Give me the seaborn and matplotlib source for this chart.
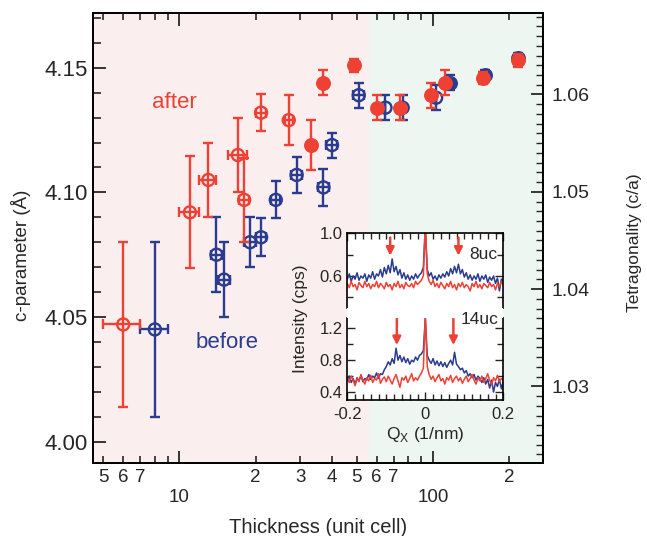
import numpy as np
import pandas as pd
import matplotlib
matplotlib.use("Agg")
import matplotlib.pyplot as plt
import seaborn as sns
from matplotlib.ticker import (FixedLocator, FixedFormatter, LogLocator,
                               FuncFormatter, MultipleLocator, FormatStrFormatter)

# ---- c-parameter vs film thickness -------------------------------------
after_thickness = [6, 11, 13, 17, 18, 21, 27, 33, 37, 49, 60, 74, 98, 112, 158, 216]
after_thickness_err = [1, 1, 1, 1.5, 0.8, 1, 1, 0, 0, 0, 0, 0, 0, 0, 0, 0]
after_c = [4.047, 4.092, 4.105, 4.115, 4.097, 4.132, 4.129, 4.119, 4.144,
           4.151, 4.134, 4.134, 4.139, 4.144, 4.146, 4.153]
after_c_err = [0.033, 0.0225, 0.015, 0.015, 0.017, 0.0075, 0.010, 0.010, 0.005,
               0.0025, 0.005, 0.005, 0.005, 0.005, 0.0025, 0.0025]

before_thickness = [8, 14, 15, 19, 21, 24, 29, 37, 40, 51, 65, 76, 103, 117, 160, 216]
before_thickness_err = [1, 0.7, 0.8, 1, 1, 1, 1.5, 1.8, 2, 2.5, 0, 0, 0, 0, 0, 0]
before_c = [4.045, 4.075, 4.065, 4.080, 4.082, 4.097, 4.107, 4.102, 4.119,
            4.139, 4.134, 4.134, 4.138, 4.144, 4.147, 4.154]
before_c_err = [0.035, 0.015, 0.015, 0.010, 0.0077, 0.0074, 0.0073, 0.0074, 0.005,
                0.005, 0.005, 0.005, 0.005, 0.003, 0.002, 0.002]

# marker style per point: open (True) or filled (False)
after_open = [True] * 7 + [False] * 9
before_open = [True] * 13 + [False] * 3

substrate_a = 3.905          # in-plane lattice constant (Å) for c/a
boundary_thickness = 56      # edge between the two shaded regimes

# ---- inset: Qx line scans ------------------------------------------------
qx = np.linspace(-0.2, 0.2, 81)
scan8_before = [0.57, 0.62, 0.55, 0.60, 0.57, 0.63, 0.56, 0.60, 0.58, 0.62,
                0.55, 0.61, 0.58, 0.64, 0.57, 0.62, 0.60, 0.66, 0.59, 0.68,
                0.62, 0.70, 0.63, 0.76, 0.64, 0.69, 0.61, 0.66, 0.58, 0.63,
                0.57, 0.61, 0.56, 0.60, 0.57, 0.62, 0.58, 0.61, 0.63, 0.68,
                1.05, 0.66, 0.60, 0.63, 0.57, 0.60, 0.56, 0.61, 0.58, 0.62,
                0.59, 0.64, 0.60, 0.67, 0.62, 0.69, 0.63, 0.71, 0.62, 0.66,
                0.59, 0.63, 0.57, 0.61, 0.56, 0.60, 0.57, 0.62, 0.55, 0.60,
                0.57, 0.61, 0.54, 0.59, 0.56, 0.60, 0.53, 0.58, 0.46, 0.57,
                0.55]
scan8_after = [0.53, 0.49, 0.55, 0.50, 0.52, 0.47, 0.54, 0.51, 0.49, 0.55,
               0.50, 0.53, 0.48, 0.52, 0.50, 0.55, 0.49, 0.53, 0.51, 0.48,
               0.54, 0.50, 0.52, 0.47, 0.53, 0.50, 0.55, 0.49, 0.52, 0.48,
               0.54, 0.51, 0.50, 0.53, 0.49, 0.55, 0.52, 0.54, 0.56, 0.60,
               1.10, 0.62, 0.55, 0.52, 0.56, 0.50, 0.53, 0.49, 0.54, 0.51,
               0.48, 0.53, 0.50, 0.55, 0.49, 0.52, 0.47, 0.53, 0.50, 0.54,
               0.49, 0.52, 0.50, 0.46, 0.53, 0.50, 0.55, 0.49, 0.52, 0.48,
               0.53, 0.51, 0.49, 0.54, 0.50, 0.52, 0.47, 0.53, 0.50, 0.55,
               0.51]
scan14_before = [0.55, 0.60, 0.52, 0.57, 0.50, 0.58, 0.54, 0.61, 0.53, 0.57,
                 0.55, 0.62, 0.56, 0.60, 0.58, 0.64, 0.57, 0.63, 0.62, 0.68,
                 0.72, 0.78, 0.74, 0.82, 0.76, 0.95, 0.80, 0.86, 0.78, 0.84,
                 0.77, 0.82, 0.75, 0.80, 0.78, 0.84, 0.80, 0.86, 0.88, 0.92,
                 1.33, 0.86, 0.80, 0.76, 0.82, 0.74, 0.79, 0.73, 0.78, 0.72,
                 0.77, 0.71, 0.76, 0.80, 0.74, 0.90, 0.75, 0.72, 0.68, 0.70,
                 0.64, 0.67, 0.60, 0.63, 0.58, 0.62, 0.55, 0.60, 0.57, 0.52,
                 0.58, 0.50, 0.56, 0.45, 0.55, 0.40, 0.52, 0.47, 0.56, 0.44,
                 0.54]
scan14_after = [0.58, 0.52, 0.60, 0.55, 0.48, 0.57, 0.53, 0.62, 0.55, 0.50,
                0.58, 0.54, 0.61, 0.52, 0.57, 0.55, 0.63, 0.51, 0.56, 0.59,
                0.53, 0.60, 0.55, 0.50, 0.57, 0.62, 0.54, 0.46, 0.58, 0.55,
                0.60, 0.52, 0.57, 0.63, 0.54, 0.58, 0.55, 0.60, 0.64, 0.70,
                1.36, 0.72, 0.62, 0.56, 0.60, 0.53, 0.58, 0.62, 0.54, 0.57,
                0.50, 0.58, 0.55, 0.61, 0.52, 0.57, 0.60, 0.54, 0.58, 0.51,
                0.56, 0.60, 0.53, 0.57, 0.62, 0.55, 0.50, 0.58, 0.54, 0.60,
                0.52, 0.57, 0.63, 0.55, 0.49, 0.58, 0.54, 0.61, 0.53, 0.57,
                0.55]
arrows8 = [-0.090, 0.085]
arrows14 = [-0.073, 0.072]

RED = "#ef4034"
BLUE = "#293c90"
PINK = "#fbeeee"
GREEN = "#eef6f2"

sns.set_theme(style="ticks")
plt.rcParams["font.family"] = ["Liberation Sans", "DejaVu Sans"]
plt.rcParams["axes.unicode_minus"] = False
plt.rcParams["axes.linewidth"] = 1.3

W, H = 647, 536
fig = plt.figure(figsize=(W / 100, H / 100), dpi=100)
fig.patch.set_facecolor("white")

ax = fig.add_axes([93 / W, 1 - 463 / H, 450 / W, 450 / H])
ax.set_facecolor("none")
ax.set_xscale("log")
xlo, xhi = 4.56, 272
ylo, yhi = 3.9914, 4.172
ax.set_xlim(xlo, xhi)
ax.set_ylim(ylo, yhi)

ax.axvspan(xlo, boundary_thickness, color=PINK, lw=0, zorder=0)
ax.axvspan(boundary_thickness, xhi, color=GREEN, lw=0, zorder=0)


def draw_series(x, xe, y, ye, is_open, color, z):
    df = pd.DataFrame({"t": x, "te": xe, "c": y, "ce": ye, "open": is_open})
    ax.errorbar(df["t"], df["c"], yerr=df["ce"], xerr=df["te"], fmt="none",
                ecolor=color, elinewidth=1.7, capsize=3.6, capthick=1.7,
                zorder=z)
    op = df[df["open"]]
    fl = df[~df["open"]]
    sns.scatterplot(data=op, x="t", y="c", ax=ax, marker="o", s=75,
                    color=color, facecolor="none", edgecolor=color,
                    linewidth=1.7, zorder=z + 1, legend=False)
    sns.scatterplot(data=fl, x="t", y="c", ax=ax, marker="o", s=95,
                    color=color, edgecolor=color, linewidth=1.0,
                    zorder=z + 1, legend=False)


draw_series(before_thickness, before_thickness_err, before_c, before_c_err,
            before_open, BLUE, 3)
draw_series(after_thickness, after_thickness_err, after_c, after_c_err,
            after_open, RED, 5)

ax.set_xlabel("Thickness (unit cell)", fontsize=14.5)
ax.xaxis.set_label_coords(0.5, -0.122)
ax.set_ylabel("c-parameter (Å)", fontsize=13.5)
ax.yaxis.set_label_coords(-0.138, 0.462)

# x ticks: decades labelled on a lower row, selected minor ticks labelled
minor_labelled = {5, 6, 7, 20, 30, 40, 50, 60, 70, 200}
ax.xaxis.set_major_locator(FixedLocator([10, 100]))
ax.xaxis.set_major_formatter(FixedFormatter(["10", "100"]))
ax.xaxis.set_minor_locator(LogLocator(base=10, subs=np.arange(2, 10)))
ax.xaxis.set_minor_formatter(FuncFormatter(
    lambda v, p: (f"{v / 10 ** np.floor(np.log10(v) + 1e-9):.0f}"
                  if round(v) in minor_labelled else "")))
ax.tick_params(axis="x", which="major", direction="in", length=9, width=1.3,
               top=True, labelsize=13.5, pad=19)
ax.tick_params(axis="x", which="minor", direction="in", length=5, width=1.2,
               top=True, labelsize=13.5, pad=4)

ax.yaxis.set_major_locator(MultipleLocator(0.05))
ax.yaxis.set_minor_locator(MultipleLocator(0.01))
ax.yaxis.set_major_formatter(FormatStrFormatter("%.2f"))
ax.tick_params(axis="y", which="major", direction="in", length=9, width=1.3,
               labelsize=16, pad=4, right=False)
ax.tick_params(axis="y", which="minor", direction="in", length=6, width=1.2,
               right=False)

ax2 = ax.twinx()
ax2.set_ylim(ylo / substrate_a, yhi / substrate_a)
ax2.yaxis.set_major_locator(MultipleLocator(0.01))
ax2.yaxis.set_minor_locator(MultipleLocator(0.001))
ax2.yaxis.set_major_formatter(FormatStrFormatter("%.2f"))
ax2.tick_params(axis="y", which="major", direction="in", length=9, width=1.3,
                labelsize=14, pad=6)
ax2.tick_params(axis="y", which="minor", direction="in", length=5, width=1.0)
ax2.set_ylabel("Tetragonality (c/a)", fontsize=12.5)
ax2.yaxis.set_label_coords(1.187, 0.489)
for a in (ax, ax2):
    for s in a.spines.values():
        s.set_color("black")
        s.set_linewidth(1.3)

ax.text(9.53, 4.136, "after", color=RED, fontsize=16, ha="center", va="center")
ax.text(15.4, 4.0397, "before", color=BLUE, fontsize=16, ha="center", va="center")

# ---- inset ---------------------------------------------------------------
il, iw = 347.3 / W, 156 / W
ax_top = fig.add_axes([il, 1 - 308 / H, iw, 74.7 / H])
ax_bot = fig.add_axes([il, 1 - 400 / H, iw, 82 / H])
gap = plt.Rectangle((il, 1 - 318 / H), iw, 10 / H, transform=fig.transFigure,
                    facecolor="white", edgecolor="none", zorder=1)
fig.patches.append(gap)

scans = pd.DataFrame({"qx": qx, "b8": scan8_before, "a8": scan8_after,
                      "b14": scan14_before, "a14": scan14_after})
for a, cols, ylim in ((ax_top, ("b8", "a8"), (0.30, 1.0)),
                      (ax_bot, ("b14", "a14"), (0.30, 1.33))):
    a.set_facecolor("white")
    sns.lineplot(data=scans, x="qx", y=cols[0], ax=a, color=BLUE, lw=1.1,
                 estimator=None, sort=False)
    sns.lineplot(data=scans, x="qx", y=cols[1], ax=a, color=RED, lw=1.1,
                 estimator=None, sort=False)
    a.set_xlim(-0.2, 0.2)
    a.set_ylim(*ylim)
    a.set_xlabel("")
    a.set_ylabel("")
    a.xaxis.set_major_locator(FixedLocator([-0.2, 0, 0.2]))
    a.xaxis.set_minor_locator(MultipleLocator(0.02))
    a.tick_params(axis="both", which="both", direction="in", top=True,
                  right=True, width=1.0, labelsize=12)
    a.tick_params(axis="both", which="major", length=6)
    a.tick_params(axis="both", which="minor", length=4)
    for s in a.spines.values():
        s.set_linewidth(1.2)
        s.set_color("black")

ax_top.spines["bottom"].set_visible(False)
ax_top.tick_params(axis="x", which="both", bottom=False, labelbottom=False)
ax_top.yaxis.set_major_locator(FixedLocator([0.6, 1.0]))
ax_top.yaxis.set_minor_locator(FixedLocator([0.4, 0.8]))
ax_top.yaxis.set_major_formatter(FormatStrFormatter("%.1f"))

ax_bot.spines["top"].set_visible(False)
ax_bot.tick_params(axis="x", which="both", top=False)
ax_bot.tick_params(axis="x", which="major", pad=5)
ax_bot.xaxis.set_major_formatter(FixedFormatter(["-0.2", "0", "0.2"]))
ax_bot.yaxis.set_major_locator(FixedLocator([0.4, 0.8, 1.2]))
ax_bot.yaxis.set_minor_locator(FixedLocator([0.6, 1.0]))
ax_bot.yaxis.set_major_formatter(FormatStrFormatter("%.1f"))
ax_bot.set_xlabel(r"Q$_\mathregular{X}$ (1/nm)", fontsize=12.5, labelpad=2)

fig.text(300 / W, 1 - 319 / H, "Intensity (cps)", rotation=90, fontsize=12.5,
         ha="center", va="center")

for q in arrows8:
    ax_top.annotate("", xy=(q, 0.79), xytext=(q, 0.96),
                    arrowprops=dict(arrowstyle="-|>", color=RED, lw=1.8,
                                    mutation_scale=12, shrinkA=0, shrinkB=0))
for q in arrows14:
    ax_bot.annotate("", xy=(q, 0.99), xytext=(q, 1.32),
                    arrowprops=dict(arrowstyle="-|>", color=RED, lw=1.8,
                                    mutation_scale=12, shrinkA=0, shrinkB=0))
ax_top.text(0.186, 0.80, "8uc", fontsize=12.5, ha="right", va="center")
fig.text(498 / W, 1 - 319 / H, "14uc", fontsize=12.5, ha="right",
         va="center", zorder=10)

fig.savefig("out.png", dpi=100)
